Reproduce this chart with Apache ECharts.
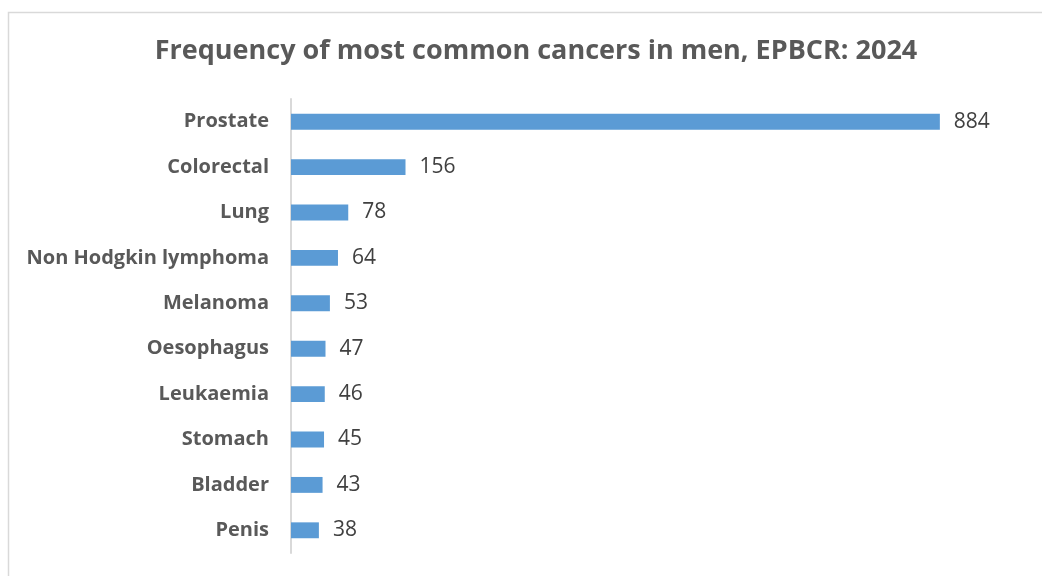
<!DOCTYPE html>
<html><head><meta charset="utf-8">
<script src="https://cdn.jsdelivr.net/npm/echarts@6/dist/echarts.min.js"></script>
<style>html,body{margin:0;padding:0;background:#fff}#c{width:1042px;height:576px}</style>
</head><body><div id="c"></div>
<script>
const titleText = 'Frequency of most common cancers in men, EPBCR: 2024';
const categories = ['Prostate','Colorectal','Lung','Non Hodgkin lymphoma','Melanoma','Oesophagus','Leukaemia','Stomach','Bladder','Penis'];
const values = [884,156,78,64,53,47,46,45,43,38];

const chart = echarts.init(document.getElementById('c'));
chart.setOption({
  animation: false,
  backgroundColor: '#fff',
  graphic: [{type:'rect', shape:{x:8.5,y:12.5,width:1100,height:700}, style:{fill:'none',stroke:'#d9d9d9',lineWidth:1.5}, silent:true}],
  title: {text: titleText, left: 531, textAlign:'center', top: 33,
    textStyle:{fontFamily:'Open Sans', fontWeight:'bold', fontSize:27, color:'#595959'}},
  grid: {left: 291, right: 17, top: 99, bottom: 23, containLabel:false},
  xAxis: {type:'value', min:0, max:1000, show:false},
  yAxis: {type:'category', data: categories, inverse:true,
    axisLine:{show:true, lineStyle:{color:'#d9d9d9', width:2}},
    axisTick:{show:false},
    axisLabel:{margin:22, fontFamily:'Open Sans', fontWeight:'bold', fontSize:20, color:'#595959'}},
  series: [{type:'bar', data: values, barCategoryGap:'65%',
    itemStyle:{color:'#5b9bd5'},
    label:{show:true, position:'right', distance:14, fontFamily:'Open Sans', fontSize:21, color:'#404040'}}]
});
</script></body></html>
